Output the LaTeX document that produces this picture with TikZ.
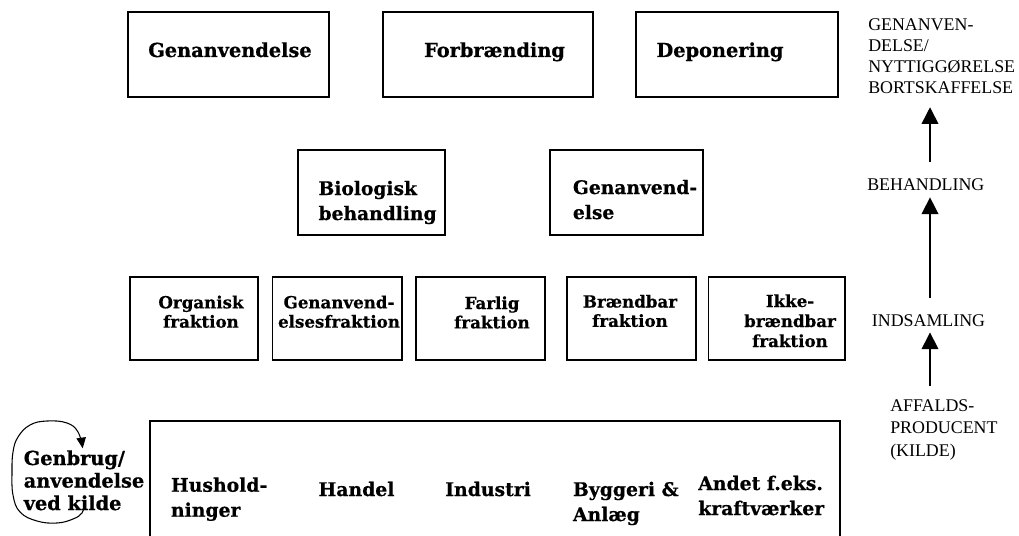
\documentclass[tikz,border=0pt]{standalone}
\usepackage{fontspec}
\setmainfont{DejaVu Serif}[BoldFeatures={FakeBold=0.6}]
\newfontfamily\rfont{Liberation Serif}
\usetikzlibrary{arrows.meta,fit}
\newcommand\mlc[2]{\begin{tabular}[t]{@{}#1@{}}#2\end{tabular}}
\tikzset{
  box/.style={draw, line width=1.2pt, inner sep=0pt},
  lbltop/.style={inner sep=0pt, font=\bfseries\fontsize{14.5}{19}\selectfont},
  lblmid/.style={inner sep=0pt, font=\bfseries\fontsize{14}{18.75}\selectfont},
  lblfrac/.style={inner sep=0pt, font=\bfseries\fontsize{12.5}{14.5}\selectfont},
  lblfracb/.style={inner sep=0pt, font=\bfseries\fontsize{12.5}{15}\selectfont},
  lblsrc/.style={inner sep=0pt, font=\bfseries\fontsize{14.1}{18.75}\selectfont},
  lblkilde/.style={inner sep=0pt, font=\bfseries\fontsize{14.5}{16.9}\selectfont},
  rlab/.style={inner sep=0pt, font=\rfont\fontsize{13.4}{15.75}\selectfont},
  rlabb/.style={inner sep=0pt, font=\rfont\fontsize{13.4}{16.9}\selectfont},
  arr/.style={line width=1.1pt, -{Triangle[width=12.5pt,length=12.5pt]}},
  looparr/.style={line width=0.8pt, -{Triangle[width=7pt,length=8pt]}}
}
\begin{document}
\begin{tikzpicture}[x=0.75pt,y=-0.75pt]
\useasboundingbox (0,0) rectangle (1019,535);
% top row
\node[box, fit={(127.7,12.3) (328.7,96.7)}] (b1) {};
\node[box, fit={(382.7,12.3) (592.7,96.7)}] (b2) {};
\node[box, fit={(636,12.3) (838,96.7)}] (b3) {};
\node[lbltop, anchor=base] (t1) at (230,57) {Genanvendelse};
\node[lbltop, anchor=base] (t2) at (494.5,57) {Forbrænding};
\node[lbltop, anchor=base] (t3) at (720,57) {Deponering};
% middle row
\node[box, fit={(297.7,150) (445,235)}] (m1) {};
\node[box, fit={(550,150) (702.7,235)}] (m2) {};
\node[lblmid, anchor=base west] (bio) at (318.3,195) {\mlc{l}{Biologisk\\behandling}};
\node[lblmid, anchor=base west] (gen) at (572.7,194) {\mlc{l}{Genanvend-\\else}};
% fractions
\node[box, fit={(130,276.7) (257.7,360)}] (f1) {};
\node[box, fit={(272.3,276.7) (401.7,360)}] (f2) {};
\node[box, fit={(416,276.7) (545,360)}] (f3) {};
\node[box, fit={(566.7,276.7) (695.7,360)}] (f4) {};
\node[box, fit={(708.3,276.7) (845,360)}] (f5) {};
\node[lblfrac, anchor=base] (tf1) at (201,308.3) {\mlc{c}{Organisk\\fraktion}};
\node[lblfrac, anchor=base] (tf2) at (339,308.3) {\mlc{c}{Genanvend-\\elsesfraktion}};
\node[lblfrac, anchor=base] (tf3) at (492,309) {\mlc{c}{Farlig\\fraktion}};
\node[lblfrac, anchor=base] (tf4) at (630,307.5) {\mlc{c}{Brændbar\\fraktion}};
\node[lblfracb, anchor=base] (tf5) at (790,307) {\mlc{c}{Ikke-\\brændbar\\fraktion}};
% source box
\node[box, fit={(150,420.7) (840,545)}] (src) {};
\node[lblsrc, anchor=base west] (s1) at (170.7,491.7) {\mlc{l}{Hushold-\\ninger}};
\node[lblsrc, anchor=base west] (s2) at (318.3,496) {Handel};
\node[lblsrc, anchor=base west] (s3) at (445,496) {Industri};
\node[lblsrc, anchor=base west] (s4) at (572.7,496) {\mlc{l}{Byggeri \&\\Anlæg}};
\node[lblsrc, anchor=base west] (s5) at (698,490) {\mlc{l}{Andet f.eks.\\kraftværker}};
% reuse at source
\node[lblkilde, anchor=base west] (kilde) at (23.5,465) {\mlc{l}{Genbrug/\\anvendelse\\ved kilde}};
\draw[looparr] plot[smooth, tension=0.7] coordinates {(84,504) (82,513) (73,519) (57,523) (37,521) (20,512) (13,495) (12,472) (13,452) (18,437) (30,425) (47,421) (67,423) (78,432) (82.7,448.3)};
% right-hand levels
\node[rlab, anchor=base west] (lv4) at (868,31) {\mlc{l}{GENANVEN-\\DELSE/\\NYTTIGGØRELSE\\BORTSKAFFELSE}};
\node[rlab, anchor=base west] (lv3) at (867,190) {BEHANDLING};
\node[rlab, anchor=base west] (lv2) at (871.7,326) {INDSAMLING};
\node[rlabb, anchor=base west] (lv1) at (890,411) {\mlc{l}{AFFALDS-\\PRODUCENT\\(KILDE)}};
\coordinate (ax) at (930,0);
\draw[arr, shorten <=6.4pt, shorten >=4.5pt] (lv1.north -| ax) -- (lv2.south -| ax);
\draw[arr, shorten <=12.2pt, shorten >=5.2pt] (lv2.north -| ax) -- (lv3.south -| ax);
\draw[arr, shorten <=12.2pt, shorten >=5pt] (lv3.north -| ax) -- (lv4.south -| ax);
\end{tikzpicture}
\end{document}
